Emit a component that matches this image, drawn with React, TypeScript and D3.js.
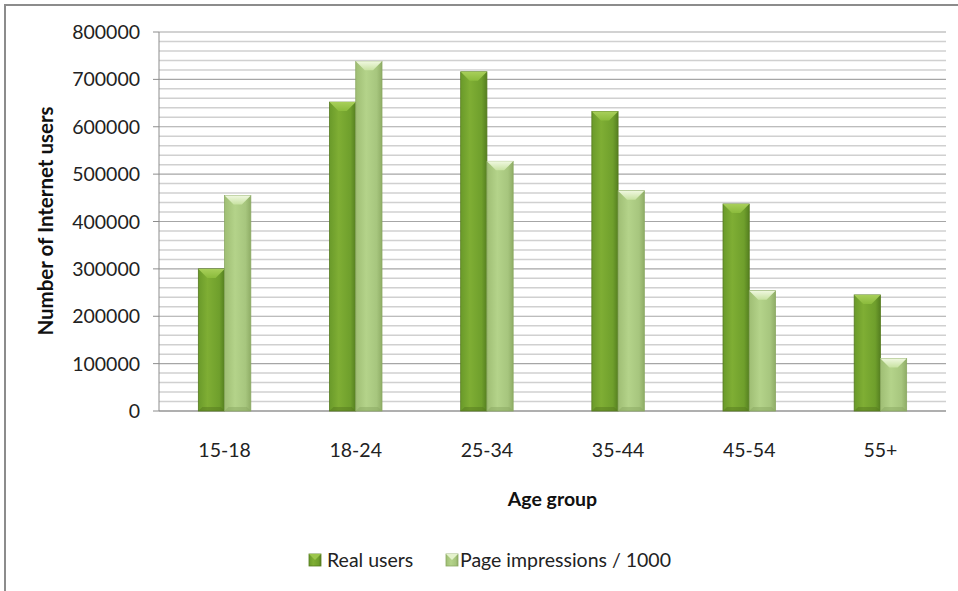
import React from "react";
import * as d3 from "d3";

const categories = ["15-18", "18-24", "25-34", "35-44", "45-54", "55+"];
const realUsers = [300000, 652000, 716000, 632000, 437000, 245000];
const pageImpressions = [455000, 738000, 527000, 465000, 254000, 111000];
const seriesNames = ["Real users", "Page impressions / 1000"];
const yTicks = [0, 100000, 200000, 300000, 400000, 500000, 600000, 700000, 800000];

const W = 958;
const H = 591;
const left = 159;
const right = 946;
const top = 32;
const bottom = 411;
const FONT = "Lato, 'Open Sans', sans-serif";
const FS = 19.5;

export default function App() {
  const x = d3.scaleBand<string>().domain(categories).range([left, right]).paddingInner(0.6).paddingOuter(0.3);
  const y = d3.scaleLinear().domain([0, 800000]).range([bottom, top]);
  const minor = d3.range(0, 800001, 20000);
  const bw = x.bandwidth() / 2;

  const series = [
    { name: seriesNames[0], values: realUsers, grad: "gDark", bevel: "bDark", edge: "#557a1e" },
    { name: seriesNames[1], values: pageImpressions, grad: "gLight", bevel: "bLight", edge: "#8aa862" },
  ];

  const bar = (cx: number, v: number, s: typeof series[0], key: string) => {
    const yt = y(v);
    const h = bottom - yt;
    const bev = 9;
    return (
      <g key={key}>
        <rect x={cx} y={yt} width={bw} height={h} fill={`url(#${s.grad})`} stroke={s.edge} strokeWidth={0.8} />
        <polygon
          points={`${cx},${yt} ${cx + bw},${yt} ${cx + bw - bev},${yt + bev} ${cx + bev},${yt + bev}`}
          fill={`url(#${s.bevel})`}
        />
        <polygon
          points={`${cx},${bottom} ${cx + bw},${bottom} ${cx + bw - 4},${bottom - 4} ${cx + 4},${bottom - 4}`}
          fill={s.edge}
          opacity={0.5}
        />
      </g>
    );
  };

  return (
    <svg width={W} height={H} style={{ position: "absolute", left: 0, top: 0, background: "#fff" }}>
      <defs>
        <linearGradient id="gDark" x1="0" x2="1" y1="0" y2="0">
          <stop offset="0" stopColor="#6a9a2a" />
          <stop offset="0.35" stopColor="#7fae34" />
          <stop offset="0.8" stopColor="#6f9f2c" />
          <stop offset="1" stopColor="#557f20" />
        </linearGradient>
        <linearGradient id="gLight" x1="0" x2="1" y1="0" y2="0">
          <stop offset="0" stopColor="#9fbe74" />
          <stop offset="0.4" stopColor="#b4d38a" />
          <stop offset="0.8" stopColor="#a7c67e" />
          <stop offset="1" stopColor="#8fad66" />
        </linearGradient>
        <linearGradient id="bDark" x1="0" x2="0" y1="0" y2="1">
          <stop offset="0" stopColor="#a8cf5a" />
          <stop offset="1" stopColor="#8bbb3c" />
        </linearGradient>
        <linearGradient id="bLight" x1="0" x2="0" y1="0" y2="1">
          <stop offset="0" stopColor="#f0f8e0" />
          <stop offset="1" stopColor="#c8e2a2" />
        </linearGradient>
      </defs>
      <rect x={5} y={5} width={1200} height={1200} fill="none" stroke="#8c8c8c" strokeWidth={2} />
      {minor.map((v) => (
        <line key={`m${v}`} x1={left} x2={right} y1={y(v)} y2={y(v)} stroke={v % 100000 === 0 ? "#a6a6a6" : "#d0d0d0"} strokeWidth={v % 100000 === 0 ? 1.2 : 1.5} />
      ))}
      <line x1={left} x2={left} y1={top} y2={bottom} stroke="#8c8c8c" strokeWidth={1} />
      <line x1={left} x2={right} y1={bottom} y2={bottom} stroke="#8c8c8c" strokeWidth={1} />
      {yTicks.map((v) => (
        <g key={`t${v}`}>
          <line x1={left - 6} x2={left} y1={y(v)} y2={y(v)} stroke="#8c8c8c" />
          <text x={140} y={y(v)} dy="0.36em" textAnchor="end" fontFamily={FONT} fontSize={FS} fill="#222">
            {v}
          </text>
        </g>
      ))}
      {categories.map((c, i) => {
        const x0 = x(c) as number;
        return (
          <g key={c}>
            {series.map((s, j) => bar(x0 + j * bw, s.values[i], s, `${c}-${j}`))}
            <text x={x0 + bw} y={457} textAnchor="middle" fontFamily={FONT} fontSize={FS} fill="#222">
              {c}
            </text>
          </g>
        );
      })}
      <text x={(left + right) / 2} y={506} textAnchor="middle" fontFamily={FONT} fontSize={19.5} fontWeight="bold" fill="#111">
        Age group
      </text>
      <text transform={`translate(53, 221) rotate(-90)`} textAnchor="middle" fontFamily={FONT} fontSize={20.5} fontWeight="bold" fill="#111">
        Number of Internet users
      </text>
      <g>
        <rect x={309} y={554} width={12} height={12} fill="url(#gDark)" stroke="#557a1e" strokeWidth={0.8} />
        <polygon points="309,554 321,554 315,560" fill="#9cc64c" />
        <text x={327} y={567} fontFamily={FONT} fontSize={FS} fill="#222">{seriesNames[0]}</text>
        <rect x={446} y={554} width={12} height={12} fill="url(#gLight)" stroke="#8aa862" strokeWidth={0.8} />
        <polygon points="446,554 458,554 452,560" fill="#e4f2cc" />
        <text x={460} y={567} fontFamily={FONT} fontSize={FS} fill="#222">{seriesNames[1]}</text>
      </g>
    </svg>
  );
}
